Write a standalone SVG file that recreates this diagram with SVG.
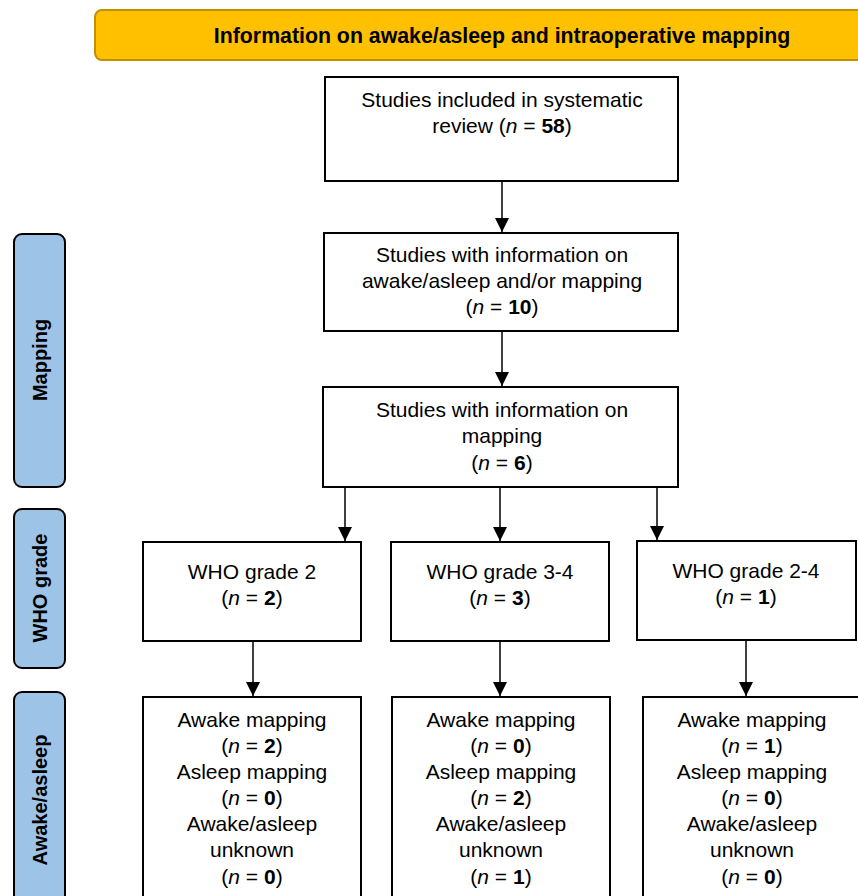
<svg xmlns="http://www.w3.org/2000/svg" width="858" height="896" viewBox="0 0 858 896">
<defs>
<style>
text{font-family:"Liberation Sans",Arial,sans-serif;fill:#000;}
.t{font-size:21px;text-anchor:middle;}
.side{font-size:20px;font-weight:bold;text-anchor:middle;}
.box{fill:#fff;stroke:#000;stroke-width:2;}
.sb{fill:#9DC3E6;stroke:#000;stroke-width:2;}
.c{stroke:#000;stroke-width:1.5;fill:none;marker-end:url(#ah);}
</style>
<marker id="ah" viewBox="0 0 14 14" refX="14" refY="7" markerWidth="14" markerHeight="14" markerUnits="userSpaceOnUse" orient="auto">
<path d="M0,0 L14,7 L0,14 Z" fill="#000"/>
</marker>
</defs>
<rect width="858" height="896" fill="#fff"/>

<g id="banner">
<rect x="95" y="10" width="780" height="50" rx="7" fill="#FFC000" stroke="#BF9000" stroke-width="2"/>
<text x="502" y="43" style="font-size:21.3px;font-weight:bold;text-anchor:middle">Information on awake/asleep and intraoperative mapping</text>
</g>

<g id="side-mapping">
<rect class="sb" x="14" y="234" width="51" height="253" rx="8"/>
<text class="side" transform="translate(47,360) rotate(-90)">Mapping</text>
</g>
<g id="side-who">
<rect class="sb" x="14" y="509" width="51" height="159" rx="8"/>
<text class="side" transform="translate(47,588) rotate(-90)">WHO grade</text>
</g>
<g id="side-awake">
<rect class="sb" x="14" y="692" width="51" height="230" rx="8"/>
<text class="side" transform="translate(47,800) rotate(-90)">Awake/asleep</text>
</g>

<g id="n1">
<rect class="box" x="325" y="77" width="353" height="104"/>
<text class="t" x="502" y="107">Studies included in systematic</text>
<text class="t" x="502" y="133">review (<tspan font-style="italic">n</tspan> = <tspan font-weight="bold">58</tspan>)</text>
</g>
<g id="n2">
<rect class="box" x="324" y="233" width="354" height="98"/>
<text class="t" x="502" y="262">Studies with information on</text>
<text class="t" x="502" y="288">awake/asleep and/or mapping</text>
<text class="t" x="502" y="314">(<tspan font-style="italic">n</tspan> = <tspan font-weight="bold">10</tspan>)</text>
</g>
<g id="n3">
<rect class="box" x="323" y="387" width="355" height="100"/>
<text class="t" x="502" y="417">Studies with information on</text>
<text class="t" x="502" y="443">mapping</text>
<text class="t" x="502" y="470">(<tspan font-style="italic">n</tspan> = <tspan font-weight="bold">6</tspan>)</text>
</g>

<g id="w1">
<rect class="box" x="143" y="542" width="218" height="99"/>
<text class="t" x="252" y="579">WHO grade 2</text>
<text class="t" x="252" y="605">(<tspan font-style="italic">n</tspan> = <tspan font-weight="bold">2</tspan>)</text>
</g>
<g id="w2">
<rect class="box" x="391" y="542" width="218" height="99"/>
<text class="t" x="500" y="579">WHO grade 3-4</text>
<text class="t" x="500" y="605">(<tspan font-style="italic">n</tspan> = <tspan font-weight="bold">3</tspan>)</text>
</g>
<g id="w3">
<rect class="box" x="637" y="541" width="219" height="99"/>
<text class="t" x="746" y="578">WHO grade 2-4</text>
<text class="t" x="746" y="604">(<tspan font-style="italic">n</tspan> = <tspan font-weight="bold">1</tspan>)</text>
</g>

<g id="a1">
<rect class="box" x="143" y="697" width="218" height="230"/>
<text class="t" x="252" y="727">Awake mapping</text>
<text class="t" x="252" y="753">(<tspan font-style="italic">n</tspan> = <tspan font-weight="bold">2</tspan>)</text>
<text class="t" x="252" y="779">Asleep mapping</text>
<text class="t" x="252" y="805">(<tspan font-style="italic">n</tspan> = <tspan font-weight="bold">0</tspan>)</text>
<text class="t" x="252" y="831">Awake/asleep</text>
<text class="t" x="252" y="857">unknown</text>
<text class="t" x="252" y="884">(<tspan font-style="italic">n</tspan> = <tspan font-weight="bold">0</tspan>)</text>
</g>
<g id="a2">
<rect class="box" x="392" y="697" width="218" height="230"/>
<text class="t" x="501" y="727">Awake mapping</text>
<text class="t" x="501" y="753">(<tspan font-style="italic">n</tspan> = <tspan font-weight="bold">0</tspan>)</text>
<text class="t" x="501" y="779">Asleep mapping</text>
<text class="t" x="501" y="805">(<tspan font-style="italic">n</tspan> = <tspan font-weight="bold">2</tspan>)</text>
<text class="t" x="501" y="831">Awake/asleep</text>
<text class="t" x="501" y="857">unknown</text>
<text class="t" x="501" y="884">(<tspan font-style="italic">n</tspan> = <tspan font-weight="bold">1</tspan>)</text>
</g>
<g id="a3">
<rect class="box" x="643" y="697" width="220" height="230"/>
<text class="t" x="752" y="727">Awake mapping</text>
<text class="t" x="752" y="753">(<tspan font-style="italic">n</tspan> = <tspan font-weight="bold">1</tspan>)</text>
<text class="t" x="752" y="779">Asleep mapping</text>
<text class="t" x="752" y="805">(<tspan font-style="italic">n</tspan> = <tspan font-weight="bold">0</tspan>)</text>
<text class="t" x="752" y="831">Awake/asleep</text>
<text class="t" x="752" y="857">unknown</text>
<text class="t" x="752" y="884">(<tspan font-style="italic">n</tspan> = <tspan font-weight="bold">0</tspan>)</text>
</g>

<g id="connectors">
<line class="c" x1="502" y1="181" x2="502" y2="232"/>
<line class="c" x1="502" y1="331" x2="502" y2="386"/>
<line class="c" x1="345" y1="487" x2="345" y2="541"/>
<line class="c" x1="500" y1="487" x2="500" y2="541"/>
<line class="c" x1="657" y1="487" x2="657" y2="540"/>
<line class="c" x1="253" y1="641" x2="253" y2="696"/>
<line class="c" x1="500" y1="641" x2="500" y2="696"/>
<line class="c" x1="746" y1="640" x2="746" y2="696"/>
</g>
</svg>
